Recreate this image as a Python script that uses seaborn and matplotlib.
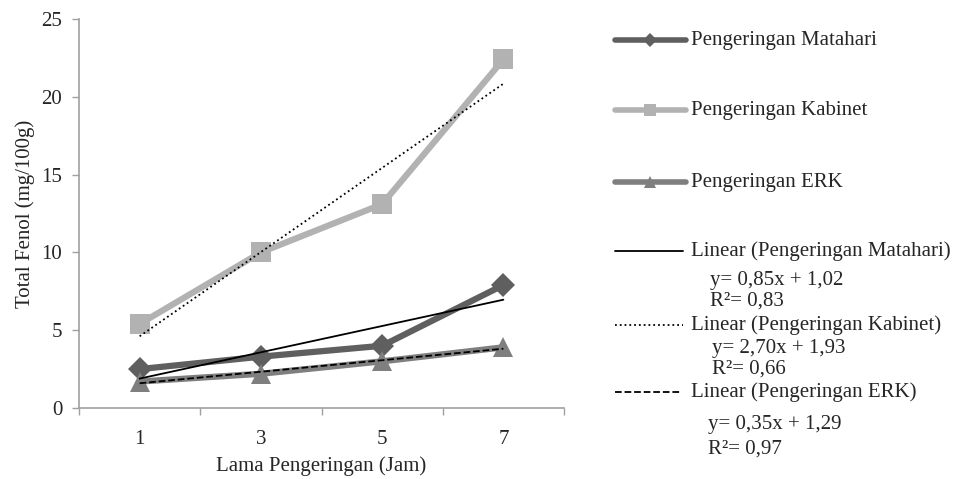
import matplotlib
matplotlib.use("Agg")
import matplotlib.pyplot as plt
import seaborn as sns
import numpy as np
import pandas as pd
from matplotlib.lines import Line2D

# ---- data ----
jam = [1, 3, 5, 7]
matahari = [2.5, 3.3, 4.0, 7.9]
kabinet = [5.4, 10.0, 13.1, 22.4]
erk = [1.7, 2.2, 3.0, 3.9]
series_names = ["Pengeringan Matahari", "Pengeringan Kabinet", "Pengeringan ERK"]
equations = ["y= 0,85x + 1,02", "y= 2,70x + 1,93", "y= 0,35x + 1,29"]
r2_values = ["R\u00b2= 0,83", "R\u00b2= 0,66", "R\u00b2= 0,97"]
yticks = [0, 5, 10, 15, 20, 25]

sns.set_theme(style="white")
plt.rcParams['font.family'] = ['Liberation Serif', 'DejaVu Serif']
FS = 15

colors = ["#5f5f5f", "#b2b2b2", "#7f7f7f"]
markers = ["D", "s", "^"]
msizes = [12.5, 15, 15]
trend_styles = ["-", ":", "--"]

df = pd.DataFrame({"jam": jam * 3,
                   "val": matahari + kabinet + erk,
                   "seri": sum([[n] * 4 for n in series_names], [])})

fig = plt.figure(figsize=(9.6, 4.79), dpi=100)
ax = fig.add_axes([79 / 960, 1 - 408 / 479, (564 - 79) / 960, (408 - 19) / 479])

for i, name in enumerate(series_names):
    sub = df[df.seri == name]
    sns.lineplot(data=sub, x="jam", y="val", ax=ax, color=colors[i], lw=4.5,
                 marker=markers[i], markersize=msizes[i], markeredgewidth=0,
                 zorder=2 + i * 0.1, legend=False)
for i, name in enumerate(series_names):
    sub = df[df.seri == name]
    sns.regplot(data=sub, x="jam", y="val", ax=ax, scatter=False, ci=None,
                truncate=True, color="black",
                line_kws=dict(lw=1.3, ls=trend_styles[i], zorder=5))

ax.set_xlim(0, 8)
ax.set_ylim(0, 25)
ax.set_yticks(yticks)
ax.set_yticklabels([str(v) for v in yticks], fontsize=FS)
ax.set_xticks(jam)
ax.set_xticklabels([str(v) for v in jam], fontsize=FS)
ax.set_xticks([0, 2, 4, 6, 8], minor=True)
ax.tick_params(axis="x", which="major", length=0, pad=16)
ax.tick_params(axis="x", which="minor", length=5, width=1, color="#a0a0a0", direction="out", bottom=True)
ax.tick_params(axis="y", length=5, width=1, color="#a0a0a0", direction="out", left=True, pad=7)
for s in ["top", "right"]:
    ax.spines[s].set_visible(False)
for s in ["left", "bottom"]:
    ax.spines[s].set_color("#a0a0a0")
    ax.spines[s].set_linewidth(1.2)
ax.set_xlabel("Lama Pengeringan (Jam)", fontsize=FS, labelpad=5)
ax.set_ylabel("Total Fenol (mg/100g)", fontsize=FS, labelpad=5)
ax.grid(False)

# ---- legend (manual, in pixel coords) ----
W, H = 960, 479
def fx(x): return x / W
def fy(y): return 1 - y / H

ys = [40, 110, 182]
for i, name in enumerate(series_names):
    fig.add_artist(Line2D([fx(615), fx(686)], [fy(ys[i])] * 2, color=colors[i], lw=4,
                          solid_capstyle="round"))
    fig.add_artist(Line2D([fx(650)], [fy(ys[i])], color=colors[i], marker=markers[i],
                          markersize=msizes[i] * 0.6, markeredgewidth=0, lw=0))
    fig.text(fx(691), fy(ys[i]), name, fontsize=FS, va="center", ha="left")

ly = [251, 325, 392]
eqy = [281, 349, 424]
r2y = [301, 369, 449]
eqx = [710, 712, 708]
handle_end = [683, 683, 680]
for i, name in enumerate(series_names):
    fig.add_artist(Line2D([fx(615), fx(handle_end[i])], [fy(ly[i])] * 2, color="black",
                          lw=1.3, ls=trend_styles[i]))
    fig.text(fx(691), fy(ly[i]), "Linear (" + name + ")", fontsize=FS, va="center", ha="left")
    fig.text(fx(eqx[i]), fy(eqy[i]), equations[i], fontsize=FS, va="center", ha="left")
    fig.text(fx(eqx[i]), fy(r2y[i]), r2_values[i], fontsize=FS, va="center", ha="left")

fig.savefig("out.png", dpi=100)
